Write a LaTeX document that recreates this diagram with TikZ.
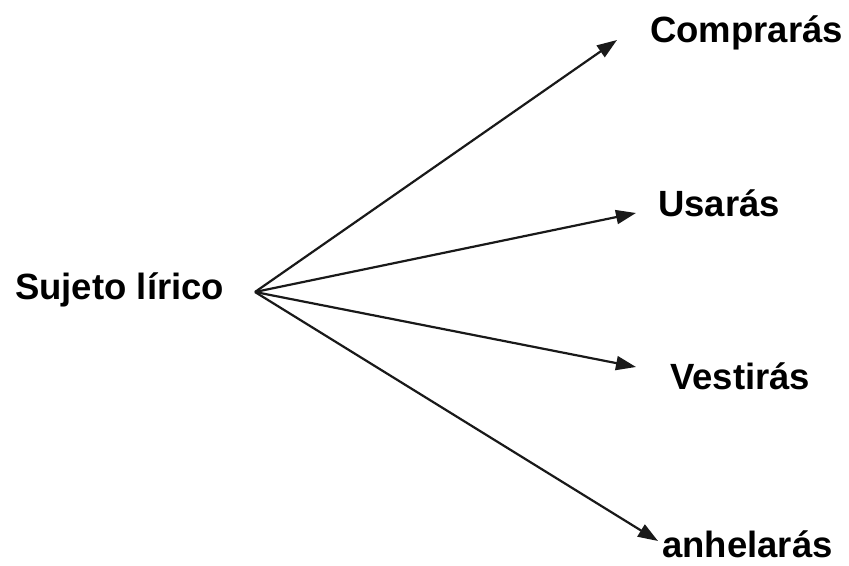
\documentclass[tikz,border=0pt]{standalone}
\usepackage{fontspec}
\setmainfont{Liberation Sans}
\usetikzlibrary{arrows.meta}
\begin{document}
\begin{tikzpicture}[x=1bp,y=1bp,
  lbl/.style={inner sep=0pt,anchor=base west,font=\fontsize{36.5bp}{40bp}\selectfont\bfseries},
  arr/.style={line width=2.2bp,draw=black!90,-{Triangle[length=20bp,width=14bp]}}]
\useasboundingbox (0,0) rectangle (849,566);
\node[lbl] (suj) at (15,266) {Sujeto lírico};
\node[lbl] (comp) at (650,523) {Comprarás};
\node[lbl] (usa) at (658,349) {Usarás};
\node[lbl] (ves) at (670,176) {Vestirás};
\node[lbl] (anh) at (662,8) {anhelarás};
\coordinate (hub) at (255,274);
\coordinate (t1) at (617,526);
\coordinate (t2) at (636,353);
\coordinate (t3) at (636,199);
\coordinate (t4) at (658,25);
\draw[arr] (hub) -- (t1);
\draw[arr] (hub) -- (t2);
\draw[arr] (hub) -- (t3);
\draw[arr] (hub) -- (t4);
\end{tikzpicture}
\end{document}
